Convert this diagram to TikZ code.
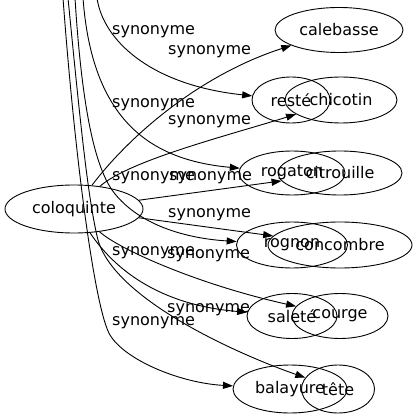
\documentclass[tikz,border=0pt]{standalone}
\usepackage{fontspec}
\setmainfont{DejaVu Sans}
\usetikzlibrary{shapes.geometric,arrows.meta}

\tikzset{
  word/.style={draw, ellipse, inner sep=0pt, line width=0.9pt, font=\fontsize{16}{19}\selectfont},
  syn/.style={anchor=base west, inner sep=0pt, font=\fontsize{16}{19}\selectfont},
  rel/.style={-{Triangle[length=10pt,width=7pt]}, line width=0.9pt}
}

\begin{document}
\begin{tikzpicture}[x=1pt,y=-1pt]
  \useasboundingbox (0,0) rectangle (417,419);

  \node (colo) at (74,209) [word, minimum width=138pt, minimum height=48pt] {coloquinte};
  \node (cal) at (339,30) [word, minimum width=128pt, minimum height=45pt] {calebasse};
  \node (reste) at (291,100) [word, minimum width=78pt, minimum height=46pt] {resté};
  \node (chic) at (341,100) [word, minimum width=112pt, minimum height=46pt] {chicotin};
  \node (rog) at (292,173) [word, minimum width=106pt, minimum height=44pt] {rogaton};
  \node (cit) at (340,173) [word, minimum width=124pt, minimum height=44pt] {citrouille};
  \node (rogn) at (292,245) [word, minimum width=111pt, minimum height=46pt] {rognon};
  \node (conc) at (340,245) [word, minimum width=144pt, minimum height=46pt] {concombre};
  \node (sal) at (292,316) [word, minimum width=90pt, minimum height=45pt] {saleté};
  \node (cour) at (340,316) [word, minimum width=96pt, minimum height=45pt] {courge};
  \node (bal) at (290,389) [word, minimum width=114pt, minimum height=48pt] {balayure};
  \node (tete) at (338,389) [word, minimum width=73pt, minimum height=48pt] {tête};

  % edges coming in from above
  \coordinate (up1) at (97,-2);
  \coordinate (up2) at (83,-2);
  \coordinate (up3) at (75,-2);
  \coordinate (up4) at (63,-2);
  \coordinate (up5) at (68,-2);

  \draw[rel] (colo) .. controls (130,135) and (200,75) .. (cal);
  \draw[rel] (up1) .. controls (103,40) and (150,85) .. (reste);
  \draw[rel] (colo) .. controls (130,160) and (230,135) .. (chic);
  \draw[rel] (up2) .. controls (92,120) and (150,160) .. (rog);
  \draw[rel] (colo) -- (cit);
  \draw[rel] (up3) .. controls (82,110) and (95,165) .. (112,190) .. controls (135,222) and (180,238) .. (rogn);
  \draw[rel] (colo) -- (conc);
  \draw[rel] (colo) .. controls (115,270) and (160,305) .. (sal);
  \draw[rel] (colo) .. controls (120,250) and (200,285) .. (cour);
  \draw[rel] (up4) .. controls (75,160) and (95,310) .. (110,335) .. controls (125,360) and (180,383) .. (bal);
  \draw[rel] (up5) .. controls (80,120) and (88,200) .. (98,240) .. controls (115,300) and (240,355) .. (tete);

  \node (l1) at (112,35) [syn] {synonyme};
  \node (l2) at (168,55) [syn] {synonyme};
  \node (l3) at (112,108) [syn] {synonyme};
  \node (l4) at (168,125) [syn] {synonyme};
  \node (l5) at (112,181) [syn] {synonyme};
  \node (l6) at (169,181) [syn] {synonyme};
  \node (l7) at (168,218) [syn] {synonyme};
  \node (l8) at (112,255) [syn] {synonyme};
  \node (l9) at (167,258) [syn] {synonyme};
  \node (l10) at (167,312) [syn] {synonyme};
  \node (l11) at (112,325) [syn] {synonyme};
\end{tikzpicture}
\end{document}
